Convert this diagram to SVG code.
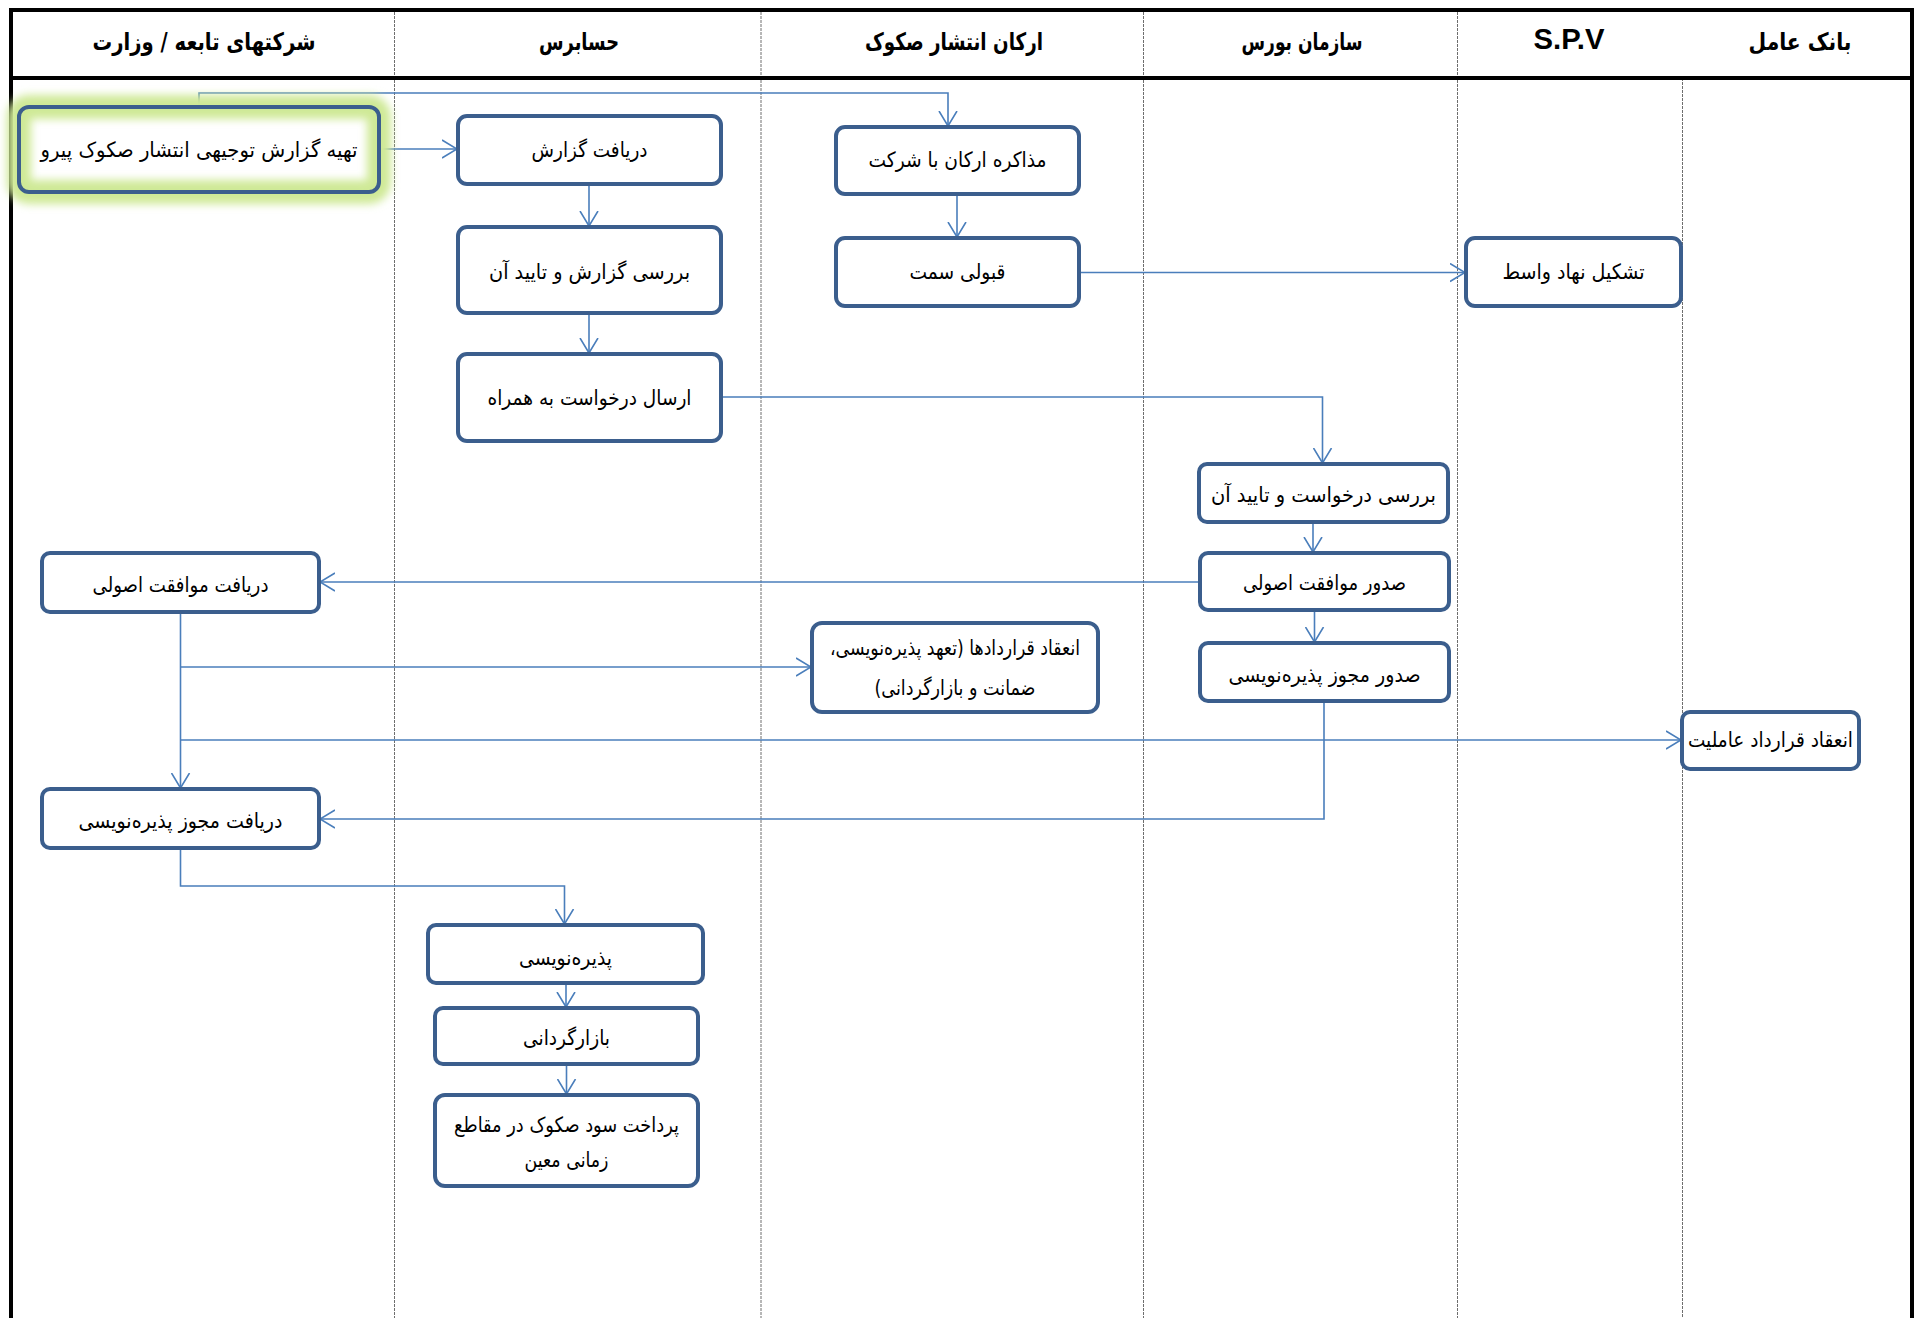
<svg xmlns="http://www.w3.org/2000/svg" width="1915" height="1318" viewBox="0 0 1915 1318">
<defs>
<style>
.lane{stroke:#6e6e6e;stroke-width:1;stroke-dasharray:3 1;fill:none}
.frame{stroke:#000;stroke-width:4;fill:none}
.hdr{font-family:"DejaVu Sans",sans-serif;font-weight:bold;font-size:24px;fill:#000;text-anchor:middle;dominant-baseline:central}
.box{fill:#fff;stroke:#3b5e8d;stroke-width:4}
.t{font-family:"DejaVu Sans",sans-serif;font-size:21px;fill:#000;text-anchor:middle;dominant-baseline:central}
.c{fill:none;stroke:#4a7ebb;stroke-width:1.6}
</style>
<marker id="ah" viewBox="0 0 16 20" refX="15" refY="10" markerWidth="16" markerHeight="20" markerUnits="userSpaceOnUse" orient="auto">
<path d="M0,1 L15,10 L0,19" fill="none" stroke="#4a7ebb" stroke-width="1.6"/>
</marker>
<filter id="glow" x="-20%" y="-40%" width="140%" height="180%">
<feGaussianBlur stdDeviation="4"/>
</filter>
</defs>
<rect width="1915" height="1318" fill="#fff"/>

<g id="frame">
<line class="lane" x1="394.5" y1="12" x2="394.5" y2="1318"/>
<line class="lane" x1="761" y1="12" x2="761" y2="1318"/>
<line class="lane" x1="1143.5" y1="12" x2="1143.5" y2="1318"/>
<line class="lane" x1="1457.5" y1="12" x2="1457.5" y2="1318"/>
<line class="lane" x1="1682.5" y1="78" x2="1682.5" y2="1318"/>
<path class="frame" d="M11,1320 V10 H1912 V1320"/>
<line class="frame" x1="11" y1="78" x2="1912" y2="78"/>
</g>

<g id="headers">
<text class="hdr" x="204" y="42" direction="rtl" textLength="223" lengthAdjust="spacingAndGlyphs">شرکتهای تابعه / وزارت</text>
<text class="hdr" x="579" y="42" direction="rtl" textLength="80" lengthAdjust="spacingAndGlyphs">حسابرس</text>
<text class="hdr" x="954" y="42" direction="rtl" textLength="178" lengthAdjust="spacingAndGlyphs">ارکان انتشار صکوک</text>
<text class="hdr" x="1302" y="42" direction="rtl" textLength="121" lengthAdjust="spacingAndGlyphs">سازمان بورس</text>
<text x="1569" y="49" font-family="Liberation Sans, Arial, sans-serif" font-weight="bold" font-size="29" text-anchor="middle" textLength="71" lengthAdjust="spacingAndGlyphs">S.P.V</text>
<text class="hdr" x="1800" y="42" direction="rtl" textLength="103" lengthAdjust="spacingAndGlyphs">بانک عامل</text>
</g>

<g id="connectors">
<path class="c" d="M199,106 V93 H948 V126" marker-end="url(#ah)"/>
<path class="c" d="M380,149 H457" marker-end="url(#ah)"/>
<path class="c" d="M589,184 V226" marker-end="url(#ah)"/>
<path class="c" d="M589,313 V353" marker-end="url(#ah)"/>
<path class="c" d="M721,397 H1322.5 V463" marker-end="url(#ah)"/>
<path class="c" d="M957,194 V237" marker-end="url(#ah)"/>
<path class="c" d="M1080,272.5 H1465" marker-end="url(#ah)"/>
<path class="c" d="M1313,522 V552" marker-end="url(#ah)"/>
<path class="c" d="M1314.5,610 V642" marker-end="url(#ah)"/>
<path class="c" d="M1200,582 H320" marker-end="url(#ah)"/>
<path class="c" d="M180.5,613 V788" marker-end="url(#ah)"/>
<path class="c" d="M180.5,667 H811" marker-end="url(#ah)"/>
<path class="c" d="M180.5,740 H1681" marker-end="url(#ah)"/>
<path class="c" d="M1324,702 V819 H320" marker-end="url(#ah)"/>
<path class="c" d="M180.5,848 V886 H564.5 V924" marker-end="url(#ah)"/>
<path class="c" d="M566,983 V1007" marker-end="url(#ah)"/>
<path class="c" d="M566.5,1064 V1094" marker-end="url(#ah)"/>
</g>

<g id="n1">
<rect x="19" y="107" width="360" height="85" rx="10" fill="#fff"/>
<rect x="19" y="107" width="360" height="85" rx="10" fill="none" stroke="#cfe996" stroke-width="24" filter="url(#glow)"/>
<rect x="19" y="107" width="360" height="85" rx="10" fill="none" stroke="#3b5e8d" stroke-width="4"/>
<text class="t" x="199" y="150" direction="rtl" textLength="317" lengthAdjust="spacingAndGlyphs">تهیه گزارش توجیهی انتشار صکوک پیرو</text>
</g>
<g id="n2">
<rect class="box" x="458" y="116" width="263" height="68" rx="9"/>
<text class="t" x="589.5" y="150" direction="rtl" textLength="116" lengthAdjust="spacingAndGlyphs">دریافت گزارش</text>
</g>
<g id="n3">
<rect class="box" x="458" y="227" width="263" height="86" rx="9"/>
<text class="t" x="589.5" y="272" direction="rtl" textLength="201" lengthAdjust="spacingAndGlyphs">بررسی گزارش و تایید آن</text>
</g>
<g id="n4">
<rect class="box" x="458" y="354" width="263" height="87" rx="9"/>
<text class="t" x="589.5" y="398" direction="rtl" textLength="204" lengthAdjust="spacingAndGlyphs">ارسال درخواست به همراه</text>
</g>
<g id="n5">
<rect class="box" x="836" y="127" width="243" height="67" rx="9"/>
<text class="t" x="957.5" y="160" direction="rtl" textLength="178" lengthAdjust="spacingAndGlyphs">مذاکره ارکان با شرکت</text>
</g>
<g id="n6">
<rect class="box" x="836" y="238" width="243" height="68" rx="9"/>
<text class="t" x="957.5" y="272" direction="rtl" textLength="96" lengthAdjust="spacingAndGlyphs">قبولی سمت</text>
</g>
<g id="n7">
<rect class="box" x="1466" y="238" width="215" height="68" rx="9"/>
<text class="t" x="1573.5" y="272" direction="rtl" textLength="142" lengthAdjust="spacingAndGlyphs">تشکیل نهاد واسط</text>
</g>
<g id="n8">
<rect class="box" x="1199" y="464" width="249" height="58" rx="8"/>
<text class="t" x="1323.5" y="495" direction="rtl" textLength="225" lengthAdjust="spacingAndGlyphs">بررسی درخواست و تایید آن</text>
</g>
<g id="n9">
<rect class="box" x="1200" y="553" width="249" height="57" rx="8"/>
<text class="t" x="1324.5" y="583" direction="rtl" textLength="163" lengthAdjust="spacingAndGlyphs">صدور موافقت اصولی</text>
</g>
<g id="n10">
<rect class="box" x="1200" y="643" width="249" height="58" rx="8"/>
<text class="t" x="1324.5" y="675" direction="rtl" textLength="192" lengthAdjust="spacingAndGlyphs">صدور مجوز پذیره‌نویسی</text>
</g>
<g id="n11">
<rect class="box" x="1682" y="712" width="177" height="57" rx="8"/>
<text class="t" x="1770.5" y="740" direction="rtl" textLength="165" lengthAdjust="spacingAndGlyphs">انعقاد قرارداد عاملیت</text>
</g>
<g id="n12">
<rect class="box" x="42" y="553" width="277" height="59" rx="8"/>
<text class="t" x="180.5" y="585" direction="rtl" textLength="176" lengthAdjust="spacingAndGlyphs">دریافت موافقت اصولی</text>
</g>
<g id="n13">
<rect class="box" x="42" y="789" width="277" height="59" rx="8"/>
<text class="t" x="180.5" y="821" direction="rtl" textLength="204" lengthAdjust="spacingAndGlyphs">دریافت مجوز پذیره‌نویسی</text>
</g>
<g id="n14">
<rect class="box" x="812" y="623" width="286" height="89" rx="10"/>
<text class="t" x="955" y="648" direction="rtl" textLength="250" lengthAdjust="spacingAndGlyphs">انعقاد قراردادها (تعهد پذیره‌نویسی،</text>
<text class="t" x="955" y="688" direction="rtl" textLength="161" lengthAdjust="spacingAndGlyphs">ضمانت و بازارگردانی)</text>
</g>
<g id="n15">
<rect class="box" x="428" y="925" width="275" height="58" rx="8"/>
<text class="t" x="565.5" y="958" direction="rtl" textLength="93" lengthAdjust="spacingAndGlyphs">پذیره‌نویسی</text>
</g>
<g id="n16">
<rect class="box" x="435" y="1008" width="263" height="56" rx="8"/>
<text class="t" x="566.5" y="1038" direction="rtl" textLength="87" lengthAdjust="spacingAndGlyphs">بازارگردانی</text>
</g>
<g id="n17">
<rect class="box" x="435" y="1095" width="263" height="91" rx="10"/>
<text class="t" x="566.5" y="1125" direction="rtl" textLength="225" lengthAdjust="spacingAndGlyphs">پرداخت سود صکوک در مقاطع</text>
<text class="t" x="566.5" y="1160" direction="rtl" textLength="84" lengthAdjust="spacingAndGlyphs">زمانی معین</text>
</g>
</svg>
